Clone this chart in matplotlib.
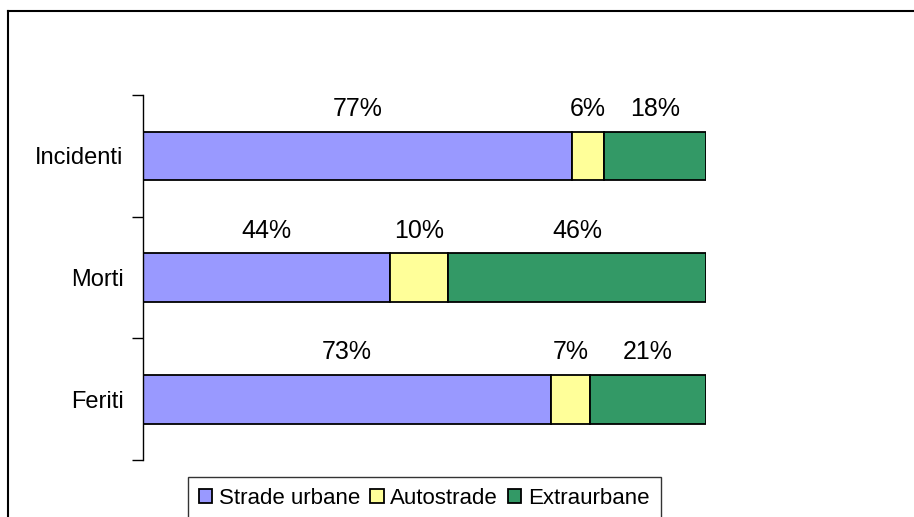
import matplotlib.pyplot as plt

plt.rcParams['font.family'] = ['Liberation Sans', 'DejaVu Sans']

categorie = ["Incidenti", "Morti", "Feriti"]
serie = ["Strade urbane", "Autostrade", "Extraurbane"]
# quote percentuali
strade_urbane = [76.2, 43.9, 72.5]
autostrade = [5.7, 10.3, 6.9]
extraurbane = [18.1, 45.8, 20.6]
etichette = [["77%", "6%", "18%"],
             ["44%", "10%", "46%"],
             ["73%", "7%", "21%"]]
colori = ["#9999FF", "#FFFF99", "#339966"]

fig = plt.figure(figsize=(9.14, 5.17), dpi=100)
W, H = 914, 517

# cornice esterna (bordo sinistro e superiore)
fig.add_artist(plt.Line2D([8 / W, 8 / W], [0, 1 - 11 / H], transform=fig.transFigure,
                          color="black", lw=1.5))
fig.add_artist(plt.Line2D([8 / W, 1], [1 - 11 / H, 1 - 11 / H], transform=fig.transFigure,
                          color="black", lw=1.5))

ax = fig.add_axes([143 / W, 1 - 460 / H, (706 - 143) / W, (460 - 95) / H])

y = list(range(len(categorie)))
left = [0] * len(categorie)
for i, valori in enumerate([strade_urbane, autostrade, extraurbane]):
    barre = ax.barh(y, valori, left=left, height=0.4, color=colori[i],
                    edgecolor="black", linewidth=1.3, label=serie[i])
    for j, b in enumerate(barre):
        cx = b.get_x() + b.get_width() / 2
        ax.text(cx, y[j] - 0.385, etichette[j][i], ha="center", va="center",
                fontsize=18)
    left = [a + v for a, v in zip(left, valori)]

ax.set_xlim(0, 100)
ax.set_ylim(2.5, -0.5)
ax.set_yticks(y)
ax.set_yticklabels(categorie, fontsize=17)
ax.set_yticks([-0.5, 0.5, 1.5, 2.5], minor=True)
ax.tick_params(axis="y", which="major", length=0, pad=14)
ax.tick_params(axis="y", which="minor", length=8, width=1, direction="out")
ax.set_xticks([])
for s in ["top", "right", "bottom"]:
    ax.spines[s].set_visible(False)
ax.spines["left"].set_linewidth(1)

leg = ax.legend(loc="upper left", bbox_to_anchor=(188 / W, 1 - 477 / H),
                bbox_transform=fig.transFigure, ncol=3, frameon=True,
                fancybox=False, edgecolor="black", fontsize=16,
                handlelength=0.6, handleheight=0.6, handletextpad=0.3,
                columnspacing=0.45, borderpad=0.5, borderaxespad=0)
leg.get_frame().set_linewidth(1)

fig.savefig("out.png", dpi=100)
